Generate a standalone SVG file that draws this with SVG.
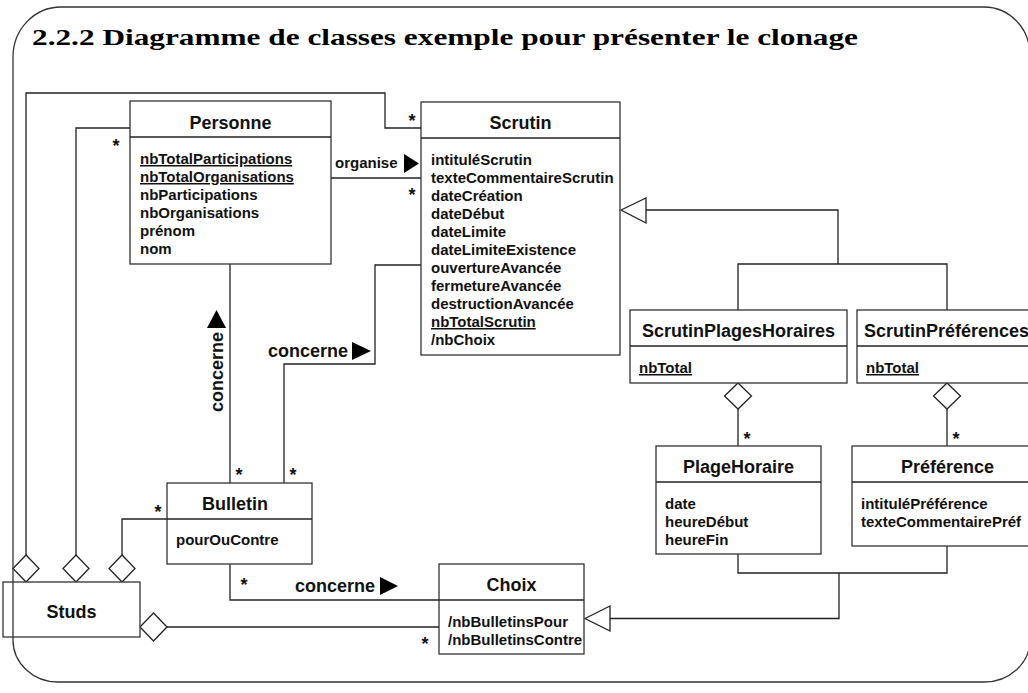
<svg xmlns="http://www.w3.org/2000/svg" width="1028" height="693" viewBox="0 0 1028 693">
<style>
.box{fill:#fff;stroke:#333;stroke-width:1.3}
.ln{fill:none;stroke:#222;stroke-width:1.3}
.dia{fill:#fff;stroke:#222;stroke-width:1.3}
.tri{fill:#fff;stroke:#222;stroke-width:1.3}
.arr{fill:#000;stroke:none}
.t{font-family:"Liberation Sans",Arial,Helvetica,sans-serif;font-weight:bold;font-size:18px;fill:#111;text-anchor:middle}
.a{font-family:"Liberation Sans",Arial,Helvetica,sans-serif;font-weight:bold;font-size:15px;fill:#111}
.u{text-decoration:underline}
.lab{font-family:"Liberation Sans",Arial,Helvetica,sans-serif;font-weight:bold;font-size:18px;fill:#111}
.st{font-family:"Liberation Sans",Arial,Helvetica,sans-serif;font-weight:bold;font-size:18px;fill:#111;text-anchor:middle}
.title{font-family:"Liberation Serif","Times New Roman",serif;font-weight:bold;font-size:23px;fill:#000}
</style>
<rect width="1028" height="693" fill="#fff"/>
<text class="title" x="32" y="45" textLength="826" lengthAdjust="spacingAndGlyphs">2.2.2 Diagramme de classes exemple pour présenter le clonage</text>

<g id="connectors">
  <path class="ln" d="M26,555 V93 H385 V128 H421"/>
  <path class="ln" d="M76,555 V128 H130"/>
  <path class="ln" d="M122,555 V519 H167"/>
  <path class="ln" d="M331,178 H421"/>
  <path class="ln" d="M230,264 V483"/>
  <path class="ln" d="M284,483 V364 H375 V265 H421"/>
  <path class="ln" d="M230,564 V600 H439"/>
  <path class="ln" d="M167,627 H439"/>
  <path class="ln" d="M610,618.5 H839 V573"/>
  <path class="ln" d="M738,554 V573 H947 V546"/>
  <path class="ln" d="M646,210 H838 V264"/>
  <path class="ln" d="M738,310 V264 H947 V310"/>
  <path class="ln" d="M738,409 V446"/>
  <path class="ln" d="M947,409 V446"/>
  <polygon class="dia" points="26,555 39,568.5 26,582 13,568.5"/>
  <polygon class="dia" points="76,555 89,568.5 76,582 63,568.5"/>
  <polygon class="dia" points="122,555 135,568.5 122,582 109,568.5"/>
  <polygon class="dia" points="140,627 153.5,613 167,627 153.5,641"/>
  <polygon class="dia" points="738,383 751.5,396 738,409 724.5,396"/>
  <polygon class="dia" points="947,383 960.5,396 947,409 933.5,396"/>
  <polygon class="tri" points="621,210 646,198 646,223"/>
  <polygon class="tri" points="585,618.5 610,606 610,631"/>
  <polygon class="arr" points="404,154 419,163.5 404,173"/>
  <polygon class="arr" points="216.5,310 226,328 207,328"/>
  <polygon class="arr" points="352,342 371,351 352,360"/>
  <polygon class="arr" points="380,577 398,586 380,595"/>
  <text class="a" x="335" y="168">organise</text>
  <text class="lab" x="268" y="357">concerne</text>
  <text class="lab" x="295" y="592">concerne</text>
  <text class="lab" transform="translate(223,412) rotate(-90)">concerne</text>
  <text class="st" x="412" y="127">*</text>
  <text class="st" x="116" y="152">*</text>
  <text class="st" x="412" y="201">*</text>
  <text class="st" x="239" y="481">*</text>
  <text class="st" x="293" y="481">*</text>
  <text class="st" x="158" y="518">*</text>
  <text class="st" x="244" y="591">*</text>
  <text class="st" x="425" y="650">*</text>
  <text class="st" x="747" y="445">*</text>
  <text class="st" x="956" y="445">*</text>
</g>

<g id="Personne">
  <rect class="box" x="130" y="101" width="201" height="163"/>
  <line class="ln" x1="130" y1="137" x2="331" y2="137"/>
  <text class="t" x="230.5" y="129">Personne</text>
  <text class="a u" x="140" y="164">nbTotalParticipations</text>
  <text class="a u" x="140" y="182">nbTotalOrganisations</text>
  <text class="a" x="140" y="200">nbParticipations</text>
  <text class="a" x="140" y="218">nbOrganisations</text>
  <text class="a" x="140" y="236">prénom</text>
  <text class="a" x="140" y="254">nom</text>
</g>

<g id="Scrutin">
  <rect class="box" x="421" y="102" width="199" height="253"/>
  <line class="ln" x1="421" y1="138" x2="620" y2="138"/>
  <text class="t" x="520.5" y="129">Scrutin</text>
  <text class="a" x="431" y="165">intituléScrutin</text>
  <text class="a" x="431" y="183">texteCommentaireScrutin</text>
  <text class="a" x="431" y="201">dateCréation</text>
  <text class="a" x="431" y="219">dateDébut</text>
  <text class="a" x="431" y="237">dateLimite</text>
  <text class="a" x="431" y="255">dateLimiteExistence</text>
  <text class="a" x="431" y="273">ouvertureAvancée</text>
  <text class="a" x="431" y="291">fermetureAvancée</text>
  <text class="a" x="431" y="309">destructionAvancée</text>
  <text class="a u" x="431" y="327">nbTotalScrutin</text>
  <text class="a" x="431" y="345">/nbChoix</text>
</g>

<g id="ScrutinPlagesHoraires">
  <rect class="box" x="630" y="310" width="217" height="73"/>
  <line class="ln" x1="630" y1="346" x2="847" y2="346"/>
  <text class="t" x="738.5" y="337">ScrutinPlagesHoraires</text>
  <text class="a u" x="639" y="373">nbTotal</text>
</g>

<g id="ScrutinPreferences">
  <rect class="box" x="857" y="310" width="190" height="73"/>
  <line class="ln" x1="857" y1="346" x2="1047" y2="346"/>
  <text class="t" x="864" y="337" style="text-anchor:start">ScrutinPréférences</text>
  <text class="a u" x="866" y="373">nbTotal</text>
</g>

<g id="PlageHoraire">
  <rect class="box" x="656" y="446" width="165" height="108"/>
  <line class="ln" x1="656" y1="482" x2="821" y2="482"/>
  <text class="t" x="738.5" y="473">PlageHoraire</text>
  <text class="a" x="665" y="509">date</text>
  <text class="a" x="665" y="527">heureDébut</text>
  <text class="a" x="665" y="545">heureFin</text>
</g>

<g id="Preference">
  <rect class="box" x="852" y="446" width="191" height="100"/>
  <line class="ln" x1="852" y1="482" x2="1043" y2="482"/>
  <text class="t" x="947.5" y="473">Préférence</text>
  <text class="a" x="861" y="509">intituléPréférence</text>
  <text class="a" x="861" y="527">texteCommentairePréf</text>
</g>

<g id="Bulletin">
  <rect class="box" x="167" y="483" width="145" height="81"/>
  <line class="ln" x1="167" y1="519" x2="312" y2="519"/>
  <text class="t" x="235" y="510">Bulletin</text>
  <text class="a" x="176" y="545">pourOuContre</text>
</g>

<g id="Choix">
  <rect class="box" x="439" y="564" width="145" height="90"/>
  <line class="ln" x1="439" y1="600" x2="584" y2="600"/>
  <text class="t" x="511.5" y="591">Choix</text>
  <text class="a" x="448" y="627">/nbBulletinsPour</text>
  <text class="a" x="448" y="645">/nbBulletinsContre</text>
</g>

<g id="Studs">
  <rect class="box" x="3" y="582" width="137" height="55"/>
  <text class="t" x="71.5" y="618">Studs</text>
</g>

<path id="frame" fill="none" stroke="#333" stroke-width="1.3" d="M61,7 H984 A46 48 0 0 1 1030,55 V640 A46 42 0 0 1 984,682 H58 A45 42 0 0 1 13,640 V57 A48 50 0 0 1 61,7 Z"/>
</svg>
